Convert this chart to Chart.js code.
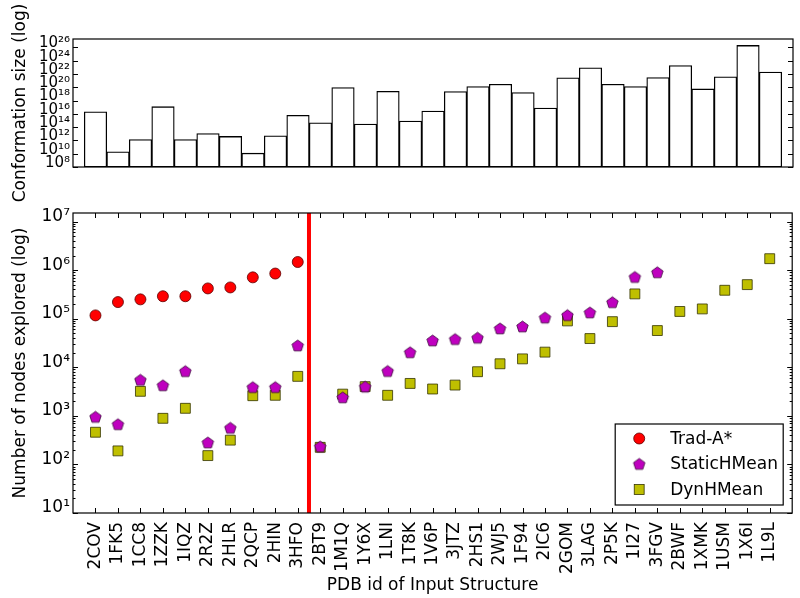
<!DOCTYPE html>
<html>
<head>
<meta charset="utf-8">
<script src="https://cdn.jsdelivr.net/npm/chart.js@4.4.0/dist/chart.umd.min.js"></script>
<style>
  body { margin: 0; background: #fff; }
  #wrap { position: relative; width: 800px; height: 598px; }
  #wrap canvas { position: absolute; left: 0; top: 0; }
</style>
</head>
<body>
<div id="wrap">
  <canvas id="sizeChart" width="800" height="598"></canvas>
  <canvas id="nodeChart" width="800" height="598"></canvas>
</div>
<script>
// PDB ids, in plot order
var pdbIds = ['2COV','1FK5','1CC8','1ZZK','1IQZ','2R2Z','2HLR','2QCP','2HIN','3HFO',
  '2BT9','1M1Q','1Y6X','1LNI','1T8K','1V6P','3JTZ','2HS1','2WJ5','1F94',
  '2IC6','2GOM','3LAG','2P5K','1I27','3FGV','2BWF','1XMK','1USM','1X6I','1L9L'];

// top panel: conformation size
var confSize = [2.1e16, 2e10, 1.4e12, 1.2e17, 1.4e12, 1.1e13, 4e12, 1.2e10, 4.9e12, 6e15,
  4.6e14, 9e19, 2.9e14, 2.5e19, 8.1e14, 2.6e16, 2.2e19, 1.26e20, 2.9e20, 1.6e19,
  7.6e16, 2.6e21, 8.5e22, 2.9e20, 1.26e20, 3e21, 1.9e23, 5.6e19, 3.7e21, 2e26, 1.9e22];

// bottom panel: number of nodes explored
var tradAstar = [1.17e5, 2.2e5, 2.5e5, 2.9e5, 2.9e5, 4.2e5, 4.4e5, 7.1e5, 8.5e5, 1.47e6,
  null, null, null, null, null, null, null, null, null, null,
  null, null, null, null, null, null, null, null, null, null, null];
var staticHMean = [950, 670, 5500, 4250, 8300, 282, 565, 3880, 3880, 28000,
  233, 2400, 3980, 8350, 20300, 35500, 37900, 40500, 63000, 69000,
  105000, 118000, 134000, 218000, 720000, 900000, null, null, null, null, null];
var dynHMean = [460, 190, 3200, 890, 1430, 152, 316, 2600, 2650, 6500,
  225, 2800, 4000, 2650, 4650, 3570, 4300, 8100, 11800, 14900,
  20500, 90000, 39000, 87000, 324000, 57000, 141000, 159000, 385000, 503000, 1720000];

// tick exponents
var sizeTickExp = [8, 10, 12, 14, 16, 18, 20, 22, 24, 26];
var nodeTickExp = [1, 2, 3, 4, 5, 6, 7];
var splitAfter = 9.5; // red line between 3HFO and 2BT9

Chart.defaults.font.family = "'DejaVu Sans', sans-serif";
Chart.defaults.color = '#000';

var supDigits = {'0':'⁰','1':'¹','2':'²','3':'³','4':'⁴','5':'⁵','6':'⁶','7':'⁷','8':'⁸','9':'⁹'};
function powLabel(v) {
  var e = Math.round(Math.log10(v));
  return '10' + String(e).split('').map(function(c){ return supDigits[c]; }).join('');
}
function toPoints(arr) {
  var pts = [];
  for (var i = 0; i < arr.length; i++) {
    if (arr[i] !== null) pts.push({x: i, y: arr[i]});
  }
  return pts;
}
function noPad(s) {
  s.paddingLeft = 0; s.paddingRight = 0; s.paddingTop = 0; s.paddingBottom = 0;
}

// pentagon marker
function makePentagon(r, fill, edge) {
  var c = document.createElement('canvas');
  var s = Math.ceil(r * 2 + 3);
  c.width = s; c.height = s;
  var g = c.getContext('2d');
  g.beginPath();
  for (var k = 0; k < 5; k++) {
    var a = -Math.PI / 2 + k * 2 * Math.PI / 5;
    var px = s / 2 + r * Math.cos(a), py = s / 2 + 0.5 + r * Math.sin(a);
    if (k === 0) g.moveTo(px, py); else g.lineTo(px, py);
  }
  g.closePath();
  g.fillStyle = fill; g.fill();
  g.strokeStyle = edge; g.lineWidth = 0.8; g.stroke();
  return c;
}
var pentagon = makePentagon(6, '#bf00bf', '#3a003a');

// frame + inward ticks
var frameTicks = {
  id: 'frameTicks',
  afterDraw: function(chart, args, opts) {
    var ctx = chart.ctx, a = chart.chartArea;
    var ys = chart.scales.y, xs = chart.scales.x;
    ctx.save();
    ctx.strokeStyle = '#000';
    ctx.lineWidth = 1;
    function seg(x1, y1, x2, y2) { ctx.beginPath(); ctx.moveTo(x1, y1); ctx.lineTo(x2, y2); ctx.stroke(); }
    (opts.yMajor || []).forEach(function(v) {
      var p = Math.round(ys.getPixelForValue(v)) + 0.5;
      seg(a.left, p, a.left + 5, p); seg(a.right, p, a.right - 5, p);
    });
    (opts.yMinor || []).forEach(function(v) {
      var p = Math.round(ys.getPixelForValue(v)) + 0.5;
      seg(a.left, p, a.left + 2.5, p); seg(a.right, p, a.right - 2.5, p);
    });
    (opts.xMajor || []).forEach(function(v) {
      var p = Math.round(xs.getPixelForValue(v)) + 0.5;
      seg(p, a.top, p, a.top + 5); seg(p, a.bottom, p, a.bottom - 5);
    });
    ctx.lineWidth = 1.2;
    ctx.strokeRect(a.left, a.top, a.right - a.left, a.bottom - a.top);
    ctx.restore();
  }
};

// red split line + legend box
var nodeExtras = {
  id: 'nodeExtras',
  afterDatasetsDraw: function(chart) {
    var ctx = chart.ctx, a = chart.chartArea;
    var x = chart.scales.x.getPixelForValue(splitAfter);
    ctx.save();
    ctx.strokeStyle = '#ff0000';
    ctx.lineWidth = 4;
    ctx.beginPath(); ctx.moveTo(x, a.top); ctx.lineTo(x, a.bottom); ctx.stroke();
    ctx.restore();
  },
  afterDraw: function(chart) {
    var ctx = chart.ctx, a = chart.chartArea;
    var w = 168, h = 81;
    var left = a.right - 9 - w, top = a.bottom - 8 - h;
    ctx.save();
    ctx.fillStyle = '#fff';
    ctx.fillRect(left, top, w, h);
    ctx.strokeStyle = '#000';
    ctx.lineWidth = 1.2;
    ctx.strokeRect(left, top, w, h);
    ctx.font = "17px 'DejaVu Sans'";
    ctx.textBaseline = 'middle';
    ctx.fillStyle = '#000';
    chart.data.datasets.forEach(function(ds, i) {
      var cy = top + 14.5 + i * 25.5, cx = left + 24;
      if (ds.pointStyle === 'circle') {
        ctx.beginPath(); ctx.arc(cx, cy, ds.pointRadius, 0, 2 * Math.PI);
        ctx.fillStyle = ds.backgroundColor; ctx.fill();
        ctx.strokeStyle = ds.borderColor; ctx.lineWidth = ds.borderWidth; ctx.stroke();
      } else if (ds.pointStyle === 'rect') {
        var s = ds.pointRadius * Math.SQRT1_2;
        ctx.fillStyle = ds.backgroundColor; ctx.fillRect(cx - s, cy - s, 2 * s, 2 * s);
        ctx.strokeStyle = ds.borderColor; ctx.lineWidth = ds.borderWidth; ctx.strokeRect(cx - s, cy - s, 2 * s, 2 * s);
      } else {
        ctx.drawImage(ds.pointStyle, cx - ds.pointStyle.width / 2, cy - ds.pointStyle.height / 2);
      }
      ctx.fillStyle = '#000';
      ctx.fillText(ds.label, left + 55, cy + 1);
    });
    ctx.restore();
  }
};

var sizeTicks = sizeTickExp.map(function(e){ return Math.pow(10, e); });
var nodeTicks = nodeTickExp.map(function(e){ return Math.pow(10, e); });
var nodeMinor = [];
nodeTickExp.forEach(function(e) {
  for (var k = 2; k <= 9; k++) { var v = k * Math.pow(10, e); if (v < 1.5e7) nodeMinor.push(v); }
});
var xTickVals = pdbIds.map(function(d, i){ return i; });

new Chart(document.getElementById('sizeChart'), {
  type: 'bar',
  data: {
    datasets: [{
      label: 'Conformation size',
      data: toPoints(confSize),
      backgroundColor: '#ffffff',
      borderColor: '#000000',
      borderWidth: 1.3,
      borderSkipped: false,
      barPercentage: 1.0,
      categoryPercentage: 1.0
    }]
  },
  options: {
    responsive: false,
    animation: false,
    layout: { padding: { left: 0, right: 7, top: 39, bottom: 431 } },
    plugins: {
      legend: { display: false },
      tooltip: { enabled: false },
      frameTicks: { yMajor: sizeTicks }
    },
    scales: {
      x: {
        type: 'linear', min: -1, max: 31,
        offset: false,
        ticks: { display: false },
        grid: { display: false, drawTicks: false, offset: false },
        border: { display: false },
        afterFit: function(s) { s.height = 0; noPad(s); }
      },
      y: {
        type: 'logarithmic', min: 1e8, max: 1.85e27,
        grid: { display: false, drawTicks: false },
        border: { display: false },
        afterBuildTicks: function(s) { s.ticks = sizeTicks.map(function(v){ return {value: v, major: true}; }); },
        afterFit: function(s) { s.width = 73; noPad(s); },
        ticks: {
          autoSkip: false,
          padding: 3,
          labelOffset: -4,
          font: { size: 15 },
          callback: function(v) { return powLabel(v); }
        },
        title: {
          display: true,
          text: 'Conformation size (log)',
          font: { size: 17 },
          padding: { top: 10, bottom: 0 }
        }
      }
    }
  },
  plugins: [frameTicks]
});

new Chart(document.getElementById('nodeChart'), {
  type: 'scatter',
  data: {
    datasets: [
      {
        label: 'Trad-A*',
        data: toPoints(tradAstar),
        pointStyle: 'circle',
        pointRadius: 5.5,
        backgroundColor: '#ff0000',
        borderColor: '#5a0000',
        borderWidth: 0.8
      },
      {
        label: 'StaticHMean',
        data: toPoints(staticHMean),
        pointStyle: pentagon,
        pointRadius: 6,
        backgroundColor: '#bf00bf',
        borderColor: '#3a003a',
        borderWidth: 0.8
      },
      {
        label: 'DynHMean',
        data: toPoints(dynHMean),
        pointStyle: 'rect',
        pointRadius: 7,
        backgroundColor: '#bfbf00',
        borderColor: '#333300',
        borderWidth: 0.8
      }
    ]
  },
  options: {
    responsive: false,
    animation: false,
    layout: { padding: { left: 0, right: 7, top: 213, bottom: 0 } },
    plugins: {
      legend: { display: false },
      tooltip: { enabled: false },
      frameTicks: { yMajor: nodeTicks, yMinor: nodeMinor, xMajor: xTickVals }
    },
    scales: {
      x: {
        type: 'linear', min: -1, max: 31,
        offset: false,
        grid: { display: false, drawTicks: false },
        border: { display: false },
        afterFit: function(s) { s.height = 85; noPad(s); },
        ticks: {
          stepSize: 1,
          autoSkip: false,
          maxRotation: 90,
          minRotation: 90,
          padding: 9,
          font: { size: 17 },
          callback: function(v) { return pdbIds[v] || ''; }
        },
        title: {
          display: true,
          text: 'PDB id of Input Structure',
          font: { size: 17 },
          padding: { top: 0, bottom: 2 }
        }
      },
      y: {
        type: 'logarithmic', min: 10, max: 1.5e7,
        grid: { display: false, drawTicks: false },
        border: { display: false },
        afterBuildTicks: function(s) { s.ticks = nodeTicks.map(function(v){ return {value: v, major: true}; }); },
        afterFit: function(s) { s.width = 73; noPad(s); },
        ticks: {
          autoSkip: false,
          padding: 3,
          labelOffset: -5,
          font: { size: 17 },
          callback: function(v) { return powLabel(v); }
        },
        title: {
          display: true,
          text: 'Number of nodes explored (log)',
          font: { size: 17 },
          padding: { top: 10, bottom: 0 }
        }
      }
    }
  },
  plugins: [frameTicks, nodeExtras]
});
</script>
</body>
</html>
